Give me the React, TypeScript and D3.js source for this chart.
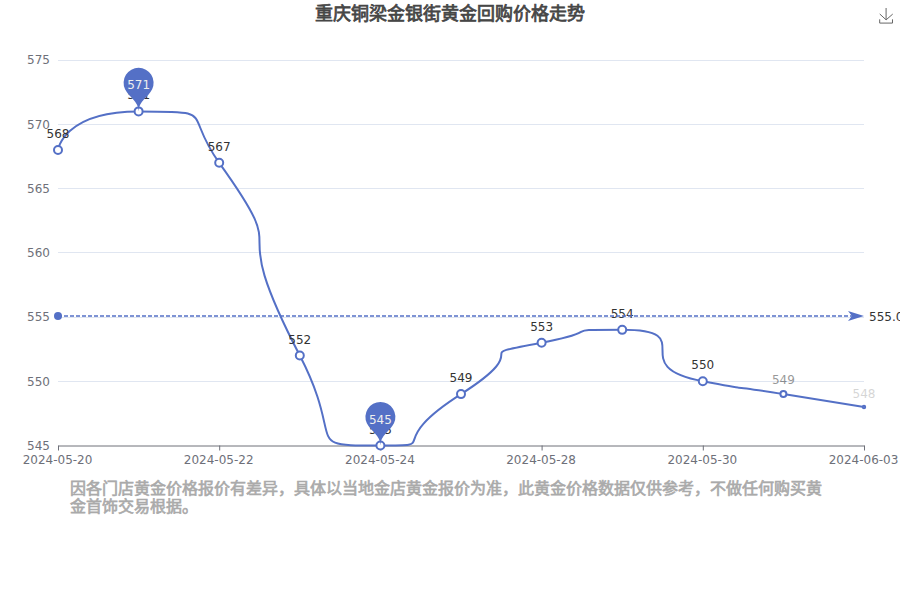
import React, { useEffect } from "react";
import * as d3 from "d3";

const width = 900;
const height = 600;

const dates = [
  "2024-05-20",
  "2024-05-21",
  "2024-05-22",
  "2024-05-23",
  "2024-05-24",
  "2024-05-25",
  "2024-05-28",
  "2024-05-29",
  "2024-05-30",
  "2024-05-31",
  "2024-06-03",
];
const prices = [568, 571, 567, 552, 545, 549, 553, 554, 550, 549, 548];
const dateTicks = [
  "2024-05-20",
  "2024-05-22",
  "2024-05-24",
  "2024-05-28",
  "2024-05-30",
  "2024-06-03",
];
const priceTicks = [545, 550, 555, 560, 565, 570, 575];
const title = "重庆铜梁金银街黄金回购价格走势";
const noteLines = [
  "因各门店黄金价格报价有差异，具体以当地金店黄金报价为准，此黄金价格数据仅供参考，不做任何购买黄",
  "金首饰交易根据。",
];

const BLUE = "#5470c6";
const AXIS = "#6E7079";
const FONT = '"DejaVu Sans", "Noto Sans CJK SC"';
const SMOOTH = 1;

type Pt = [number, number];

const clamp = (v: number, a: number, b: number) =>
  Math.max(Math.min(v, Math.max(a, b)), Math.min(a, b));

// same control point logic as an echarts smooth line
function smoothPath(pts: Pt[]): string {
  const p = d3.path();
  let [cpx, cpy] = pts[0];
  p.moveTo(cpx, cpy);
  for (let i = 1; i < pts.length; i++) {
    const [px, py] = pts[i - 1];
    const [x, y] = pts[i];
    let c0x = x;
    let c0y = y;
    let c1x = x;
    let c1y = y;
    if (i < pts.length - 1) {
      const [nx, ny] = pts[i + 1];
      const lenPrev = Math.hypot(x - px, y - py);
      const lenNext = Math.hypot(nx - x, ny - y);
      const ratio = lenNext / (lenNext + lenPrev);
      c1x = clamp(x + (nx - px) * SMOOTH * ratio, nx, x);
      c1y = clamp(y + (ny - py) * SMOOTH * ratio, ny, y);
      c0x = clamp(x - ((c1x - x) * lenPrev) / lenNext, px, x);
      c0y = clamp(y - ((c1y - y) * lenPrev) / lenNext, py, y);
      c1x = x + ((x - c0x) * lenNext) / lenPrev;
      c1y = y + ((y - c0y) * lenNext) / lenPrev;
    }
    p.bezierCurveTo(cpx, cpy, c0x, c0y, x, y);
    cpx = c1x;
    cpy = c1y;
  }
  return p.toString();
}

function pinPath(x: number, y: number, w: number, h: number): string {
  const r = w / 2;
  const dy = (r * r) / (h - r);
  const cy = y - h + r + dy;
  const angle = Math.asin(dy / r);
  const dx = Math.cos(angle) * r;
  const tanX = Math.sin(angle);
  const tanY = Math.cos(angle);
  const cpLen = r * 0.6;
  const cpLen2 = r * 0.7;
  const p = d3.path();
  p.moveTo(x - dx, cy + dy);
  p.arc(x, cy, r, Math.PI - angle, Math.PI * 2 + angle);
  p.bezierCurveTo(x + dx - tanX * cpLen, cy + dy + tanY * cpLen, x, y - cpLen2, x, y);
  p.bezierCurveTo(x, y - cpLen2, x - dx + tanX * cpLen, cy + dy + tanY * cpLen, x - dx, cy + dy);
  p.closePath();
  return p.toString();
}

export default function App() {
  const svgRef = React.useRef<SVGSVGElement>(null);

  useEffect(() => {
    const svg = d3.select(svgRef.current);
    svg.selectAll("*").remove();

    const x = d3.scalePoint<string>().domain(dates).range([58, 864]);
    const y = d3.scaleLinear().domain([545, 575]).range([445.5, 60]);
    const px = (i: number) => x(dates[i]) as number;
    const points: Pt[] = prices.map((d, i) => [px(i), y(d)]);

    // regular weight plus a thin outline, the bold cut of the cjk font is too clean
    svg
      .append("text")
      .attr("x", width / 2)
      .attr("y", 20)
      .attr("text-anchor", "middle")
      .attr("fill", "#464646")
      .attr("stroke", "#464646")
      .attr("stroke-width", 0.75)
      .style("font-size", "18px")
      .text(title);

    // toolbox download icon
    svg
      .append("path")
      .attr("d", "M4.7,22.9L29.3,45.5L54.7,23.4M4.6,43.6L4.6,58L53.8,58L53.8,43.6M29.2,45.1L29.2,0")
      .attr("transform", "translate(878.5,8) scale(0.26)")
      .attr("fill", "none")
      .attr("stroke", "#666")
      .attr("stroke-width", 1)
      .attr("vector-effect", "non-scaling-stroke");

    svg
      .append("g")
      .selectAll("line")
      .data(priceTicks.filter((d) => d !== 545))
      .enter()
      .append("line")
      .attr("x1", 58)
      .attr("x2", 864)
      .attr("y1", (d) => Math.floor(y(d)) + 0.5)
      .attr("y2", (d) => Math.floor(y(d)) + 0.5)
      .attr("stroke", "#E0E6F1");

    const yAxis = svg
      .append("g")
      .attr("transform", "translate(58,0)")
      .call(d3.axisLeft(y).tickValues(priceTicks).tickSize(0).tickPadding(8));
    yAxis.select(".domain").remove();
    yAxis.selectAll("text").attr("fill", AXIS).style("font-size", "12px").style("font-family", FONT);

    const xAxis = svg
      .append("g")
      .attr("transform", "translate(0,445.5)")
      .call(d3.axisBottom(x).tickValues(dateTicks).tickSize(5).tickPadding(5).tickSizeOuter(0));
    xAxis.select(".domain").attr("stroke", AXIS);
    xAxis.selectAll("line").attr("stroke", AXIS);
    xAxis
      .selectAll("text")
      .attr("x", -1)
      .attr("fill", AXIS)
      .style("font-size", "12px")
      .style("font-family", FONT);

    svg
      .append("path")
      .attr("d", smoothPath(points))
      .attr("fill", "none")
      .attr("stroke", BLUE)
      .attr("stroke-width", 2);

    // the last points were still fading in when the picture was taken
    const radius = (i: number) => (i === 10 ? 1.2 : i === 9 ? 3 : 4);
    const fade = (i: number) => (i === 10 ? 0.2 : i === 9 ? 0.5 : 1);
    const labelGap = (i: number) => (i === 10 ? 9 : i === 9 ? 10.5 : 12);

    svg
      .append("g")
      .selectAll("circle")
      .data(points)
      .enter()
      .append("circle")
      .attr("cx", (d) => d[0])
      .attr("cy", (d) => d[1])
      .attr("r", (d, i) => radius(i))
      .attr("fill", "#fff")
      .attr("stroke", BLUE)
      .attr("stroke-width", 2);

    svg
      .append("g")
      .selectAll("text")
      .data(prices)
      .enter()
      .append("text")
      .attr("x", (d, i) => px(i))
      .attr("y", (d, i) => y(d) - labelGap(i))
      .attr("text-anchor", "middle")
      .attr("fill", "#333")
      .attr("opacity", (d, i) => fade(i))
      .style("font-size", "12px")
      .text((d) => d);

    // average line
    const avg = d3.mean(prices) as number;
    const avgY = Math.round(y(avg));
    const markLine = svg.append("g");
    markLine
      .append("line")
      .attr("x1", 58)
      .attr("x2", 858)
      .attr("y1", avgY)
      .attr("y2", avgY)
      .attr("stroke", BLUE)
      .attr("stroke-width", 1.5)
      .attr("stroke-dasharray", "4 2");
    markLine.append("circle").attr("cx", 58).attr("cy", avgY).attr("r", 4).attr("fill", BLUE);
    const arrow = d3.path();
    arrow.moveTo(864, avgY);
    arrow.lineTo(848, avgY + 5);
    arrow.lineTo(852, avgY);
    arrow.lineTo(848, avgY - 5);
    arrow.closePath();
    markLine.append("path").attr("d", arrow.toString()).attr("fill", BLUE);
    markLine
      .append("text")
      .attr("x", 869)
      .attr("y", avgY + 4.5)
      .attr("fill", "#333")
      .style("font-size", "12px")
      .text(avg.toFixed(2));

    // max and min pins
    const extremes = [d3.maxIndex(prices), d3.minIndex(prices)];
    const pins = svg.append("g").selectAll("g").data(extremes).enter().append("g");
    pins
      .append("path")
      .attr("d", (i) => pinPath(px(i), y(prices[i]), 30, 50))
      .attr("fill", BLUE);
    pins
      .append("text")
      .attr("x", (i) => px(i))
      .attr("y", (i) => y(prices[i]) - 22)
      .attr("text-anchor", "middle")
      .attr("fill", "#eee")
      .style("font-size", "12px")
      .text((i) => prices[i]);

    svg
      .append("g")
      .selectAll("text")
      .data(noteLines)
      .enter()
      .append("text")
      .attr("x", 70)
      .attr("y", (d, i) => 494 + i * 18)
      .attr("fill", "#aaa")
      .attr("stroke", "#aaa")
      .attr("stroke-width", 0.65)
      .style("font-size", "16px")
      .text((d) => d);
  }, []);

  return (
    <svg
      ref={svgRef}
      width={width}
      height={height}
      style={{ position: "absolute", left: 0, top: 0, fontFamily: FONT }}
    />
  );
}
